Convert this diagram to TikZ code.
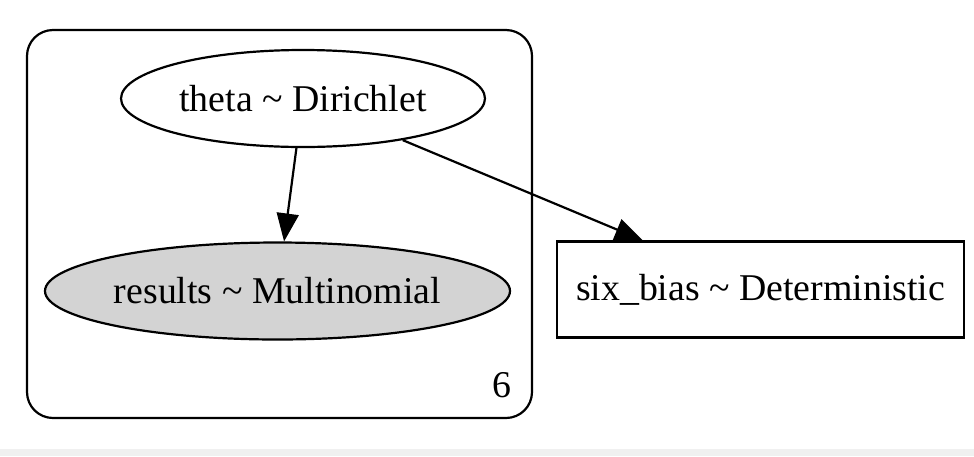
\documentclass[tikz,border=0pt]{standalone}
\usepackage{fontspec}
\setmainfont{Liberation Serif}
\usepackage{tikz}
\usetikzlibrary{arrows.meta,shapes}

\definecolor{obsgray}{RGB}{211,211,211}
\definecolor{stripgray}{RGB}{240,240,240}

\tikzset{
  rv/.style={draw, ellipse, line width=2.2pt, inner sep=0pt},
  obs/.style={rv, fill=obsgray},
  det/.style={draw, rectangle, line width=2.2pt, inner sep=0pt},
  edge/.style={line width=2.2pt, -{Triangle[length=28pt,width=22pt]}}
}

\begin{document}
\begin{tikzpicture}[x=1pt, y=-1pt, font=\fontsize{37.8}{45}\selectfont]
    \useasboundingbox (0,0) rectangle (974,456);
    \fill[white] (0,0) rectangle (974,449);
    \fill[stripgray] (0,449) rectangle (974,456);
    % plate
    \draw[line width=2.2pt, rounded corners=26pt] (27,30) rectangle (532,418);
    \node (plate6) at (501.5,385.5) {6};
    % variables
    \node[rv, minimum width=364pt, minimum height=97pt] (theta) at (303,98.5) {theta \textasciitilde{} Dirichlet};
    \node[obs, minimum width=465pt, minimum height=97pt] (results) at (277.5,291) {results \textasciitilde{} Multinomial};
    \node[det, minimum width=407pt, minimum height=96pt] (sixbias) at (760.5,289.5) {six\_bias \textasciitilde{} Deterministic};
    % edges
    \draw[edge] (theta) -- (results);
    \draw[edge] (theta) -- (sixbias);
\end{tikzpicture}
\end{document}
